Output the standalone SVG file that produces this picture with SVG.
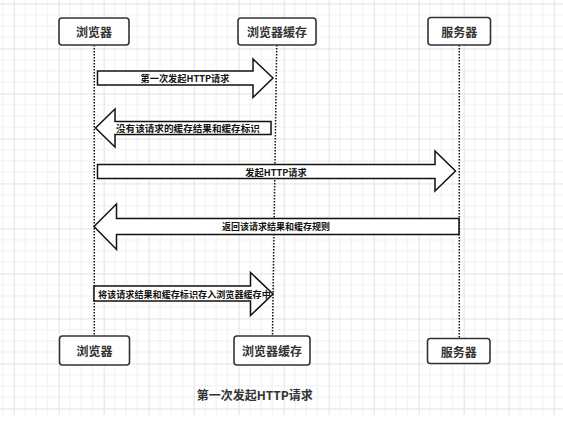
<svg xmlns="http://www.w3.org/2000/svg" width="563" height="423" viewBox="0 0 563 423">
<defs>
<pattern id="grid" patternUnits="userSpaceOnUse" x="13.7" y="3.45" width="45" height="45">
<path d="M11.25 0V45M22.5 0V45M33.75 0V45M0 11.25H45M0 22.5H45M0 33.75H45" stroke="#efefef" stroke-width="1" fill="none"/>
<path d="M0.5 0V45M0 0.5H45" stroke="#e2e2e2" stroke-width="1" fill="none"/>
</pattern>
</defs>
<style>
.box{fill:#fff;stroke:#333;stroke-width:1.6}
.nl{font-family:"Noto Sans CJK SC","Liberation Sans",sans-serif;font-size:12px;font-weight:bold;fill:#333;text-anchor:middle;dominant-baseline:central}
.life{stroke:#111;stroke-width:1.5;stroke-dasharray:1.5 1.5;fill:none}
.arr{fill:#fff;stroke:#111;stroke-width:1.5;stroke-linejoin:miter}
.al{font-family:"Noto Sans CJK SC","Liberation Sans",sans-serif;font-size:9.2px;font-weight:bold;fill:#111;dominant-baseline:central}
.title{font-family:"Noto Sans CJK SC","Liberation Sans",sans-serif;font-size:12px;font-weight:bold;fill:#333;text-anchor:middle;dominant-baseline:central}
</style>
<rect x="0" y="0" width="563" height="423" fill="#fff"/>
<rect x="0" y="0" width="563" height="415" fill="url(#grid)"/>
<g id="lifelines">
<line class="life" x1="94.3" y1="45" x2="94.3" y2="336"/>
<line class="life" x1="276.7" y1="45" x2="272.5" y2="336"/>
<line class="life" x1="459.3" y1="45" x2="459.3" y2="338"/>
</g>
<g id="connectors">
<g id="msg1"><polygon class="arr" points="97.5,71 253,71 253,59 273,78 253,97.5 253,85 97.5,85"/><text class="al" x="185" y="77.8" text-anchor="middle" font-size="9px">第一次发起HTTP请求</text></g>
<g id="msg2"><polygon class="arr" points="271,121.5 115,121.5 115,109 95.5,128 115,147 115,134.5 271,134.5"/><text class="al" x="116" y="128" style="font-size:9.6px">没有该请求的缓存结果和缓存标识</text></g>
<g id="msg3"><polygon class="arr" points="97.5,164.5 435,164.5 435,151 455.5,171 435,191 435,178.5 97.5,178.5"/><text class="al" x="276" y="171.5" text-anchor="middle">发起HTTP请求</text></g>
<g id="msg4"><polygon class="arr" points="459,218.5 116.5,218.5 116.5,204 94,226.5 116.5,249.5 116.5,234.5 459,234.5"/><text class="al" x="276" y="226.5" text-anchor="middle" style="font-size:9px">返回该请求结果和缓存规则</text></g>
<g id="msg5"><polygon class="arr" points="94,286 250.5,286 250.5,272.5 273,294 250.5,315.5 250.5,301 94,301"/><text class="al" x="98" y="293.5" style="font-size:9.1px">将该请求结果和缓存标识存入浏览器缓存中</text></g>
</g>
<g id="browser-top"><rect class="box" x="59" y="18" width="70" height="27" rx="3"/><text class="nl" x="94" y="31.5">浏览器</text></g>
<g id="cache-top"><rect class="box" x="238" y="18" width="78" height="27" rx="3"/><text class="nl" x="277" y="31.5">浏览器缓存</text></g>
<g id="server-top"><rect class="box" x="428" y="17.5" width="62.5" height="27.5" rx="3"/><text class="nl" x="459.3" y="31.5">服务器</text></g>
<g id="browser-bottom"><rect class="box" x="59.5" y="336" width="70" height="29" rx="3"/><text class="nl" x="94.5" y="350.5">浏览器</text></g>
<g id="cache-bottom"><rect class="box" x="234" y="336" width="76" height="29" rx="3"/><text class="nl" x="272" y="350.5">浏览器缓存</text></g>
<g id="server-bottom"><rect class="box" x="427.5" y="338.5" width="62.5" height="25" rx="3"/><text class="nl" x="458.8" y="351">服务器</text></g>
<text class="title" x="254.7" y="394">第一次发起HTTP请求</text>
</svg>
